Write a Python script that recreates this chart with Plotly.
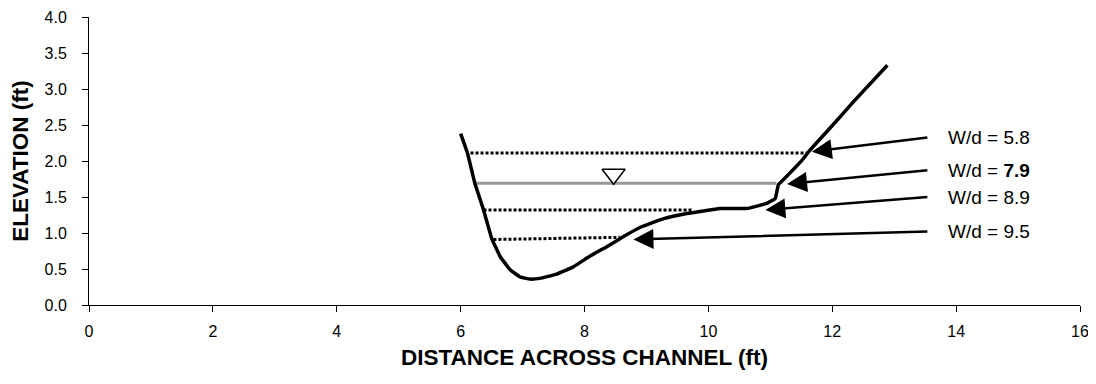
import plotly.graph_objects as go

# Channel cross-section (distance ft, elevation ft)
station = [6.00, 6.11, 6.23, 6.37, 6.50, 6.64, 6.80, 6.96, 7.12, 7.28, 7.55, 7.82, 8.09,
           8.36, 8.63, 8.90, 9.28, 9.65, 10.19, 10.62, 10.94, 11.08, 11.13, 11.21, 11.51,
           11.64, 12.02, 12.34, 12.89]
elevation = [2.38, 2.11, 1.69, 1.32, 0.93, 0.67, 0.49, 0.39, 0.36, 0.37, 0.43, 0.53, 0.68,
             0.81, 0.95, 1.08, 1.20, 1.27, 1.34, 1.34, 1.41, 1.48, 1.67, 1.74, 2.01,
             2.15, 2.51, 2.82, 3.33]

# Water surface (W/d = 7.9)
ws_x = [6.23, 11.10]
ws_y = [1.69, 1.69]
ws_marker_x = [8.47]
ws_marker_y = [1.815]

# Alternative stage lines (dotted)
stage_x = [[6.16, 11.59], [6.37, 9.76], [6.53, 8.57]]
stage_y = [[2.11, 2.11], [1.32, 1.32], [0.91, 0.94]]

# Labels and arrows
labels = ["W/d = 5.8", "W/d = <b>7.9</b>", "W/d = 8.9", "W/d = 9.5"]
head_x = [11.67, 11.27, 10.92, 8.79]
head_y = [2.13, 1.68, 1.32, 0.91]
tail_x = [13.56, 13.56, 13.56, 13.56]
tail_y = [2.33, 1.875, 1.50, 1.02]
label_x = 13.84

x_ticks = [0, 2, 4, 6, 8, 10, 12, 14, 16]
y_ticks = [0.0, 0.5, 1.0, 1.5, 2.0, 2.5, 3.0, 3.5, 4.0]

FONT = "Liberation Sans, Arial, sans-serif"

fig = go.Figure()

for sx, sy in zip(stage_x, stage_y):
    fig.add_trace(go.Scatter(x=sx, y=sy, mode="lines",
                             line=dict(color="black", width=3, dash="3px,2px"),
                             showlegend=False, hoverinfo="skip"))

fig.add_trace(go.Scatter(x=ws_x, y=ws_y, mode="lines",
                         line=dict(color="#999999", width=3),
                         showlegend=False, hoverinfo="skip"))

fig.add_trace(go.Scatter(x=station, y=elevation, mode="lines",
                         line=dict(color="black", width=3.5, shape="spline", smoothing=0.3),
                         showlegend=False))

fig.add_trace(go.Scatter(x=ws_marker_x, y=ws_marker_y, mode="markers",
                         marker=dict(symbol="triangle-down", size=20, color="white",
                                     line=dict(color="black", width=1.5)),
                         showlegend=False, hoverinfo="skip"))

for lab, hx, hy, tx, ty in zip(labels, head_x, head_y, tail_x, tail_y):
    fig.add_annotation(x=hx, y=hy, ax=tx, ay=ty, xref="x", yref="y", axref="x", ayref="y",
                       showarrow=True, text="", arrowhead=2, arrowsize=1.6,
                       arrowwidth=2.5, arrowcolor="black")
    fig.add_annotation(x=label_x, y=ty, xref="x", yref="y", text=lab, showarrow=False,
                       xanchor="left", yanchor="middle",
                       font=dict(family=FONT, size=19, color="black"))

axis_common = dict(showgrid=False, zeroline=False, showline=True, linecolor="black",
                   linewidth=1, ticks="outside", ticklen=6, tickcolor="black",
                   automargin=False, ticklabeloverflow="allow",
                   tickfont=dict(family=FONT, size=16, color="black"))

fig.update_xaxes(range=[0, 16], tickvals=x_ticks, ticktext=[str(v) for v in x_ticks],
                 ticklabelstandoff=6,
                 title=dict(text="<b>DISTANCE ACROSS CHANNEL (ft)</b>", standoff=10,
                            font=dict(family=FONT, size=22.5, color="black")),
                 **axis_common)
fig.update_yaxes(range=[0, 4], tickvals=y_ticks, ticktext=[f"{v:.1f}" for v in y_ticks],
                 ticklabelstandoff=12,
                 title=dict(text="<b>ELEVATION (ft)</b>", standoff=10,
                            font=dict(family=FONT, size=22.5, color="black")),
                 **axis_common)

# page body has an 8px margin, so the figure is offset by 8px
fig.update_layout(width=1088, height=368, plot_bgcolor="white", paper_bgcolor="white",
                  margin=dict(l=81, r=16, t=9, b=71, autoexpand=False), showlegend=False)

fig.write_html("out.html")
